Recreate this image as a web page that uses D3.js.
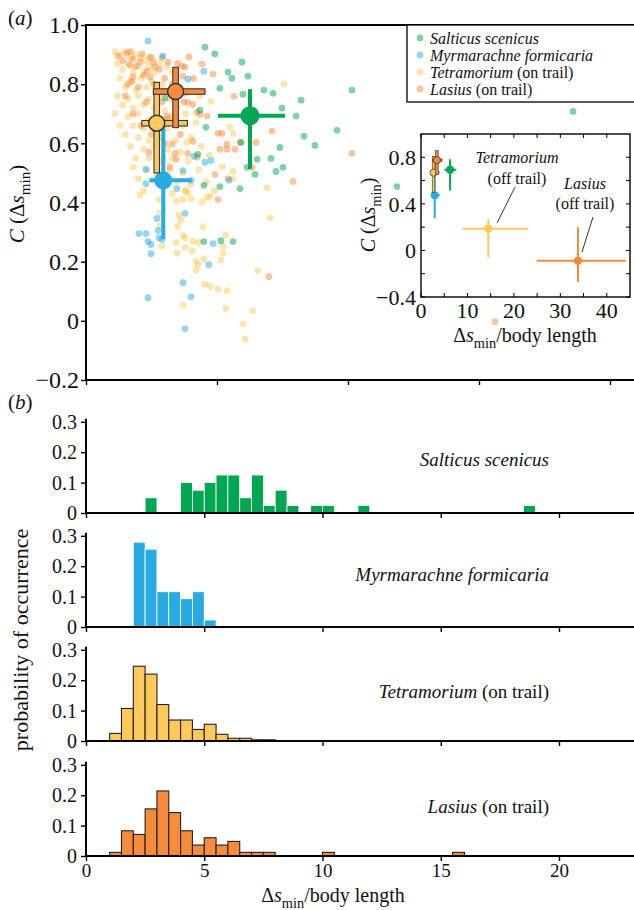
<!DOCTYPE html>
<html><head><meta charset="utf-8">
<script src="https://cdn.jsdelivr.net/npm/d3@7"></script>
<style>body{margin:0;background:#fff} svg{display:block}</style>
</head><body><svg id="c" width="634" height="910"></svg>
<script>
// ---------------- DATA ----------------
const speciesNames = ["Salticus scenicus", "Myrmarachne formicaria", "Tetramorium", "Lasius"];
const colors = ["#00a651", "#29abe2", "#fdc95b", "#f68b3c"];

const salticusPts = [[4.54,0.925],[4.92,0.902],[5.95,0.875],[5.42,0.841],[5.57,0.820],[6.18,0.827],[5.11,0.786],[6.79,0.780],[7.14,0.769],[8.21,0.746],[7.48,0.719],[8.02,0.692],[8.32,0.624],[8.74,0.593],[6.53,0.546],[7.25,0.505],[7.52,0.519],[6.45,0.495],[7.40,0.586],[4.35,0.712],[4.58,0.654],[4.27,0.563],[4.50,0.458],[5.88,0.447],[4.50,0.268],[5.15,0.271],[5.61,0.268],[9.58,0.644],[10.15,0.780],[11.87,0.454],[18.59,0.708],[7.06,0.549],[5.99,0.766],[5.92,0.603],[6.15,0.519],[3.02,0.753],[5.11,0.454]];

const myrmarachnePts = [[2.37,0.946],[2.94,0.895],[4.50,0.844],[3.89,0.817],[4.12,0.556],[4.54,0.536],[4.77,0.542],[3.70,0.508],[2.29,0.512],[2.29,0.464],[4.01,0.475],[3.47,0.447],[5.46,0.475],[2.71,0.346],[3.78,0.363],[2.02,0.295],[2.29,0.295],[2.75,0.305],[2.37,0.268],[2.48,0.258],[2.79,0.281],[2.90,0.275],[2.48,0.227],[4.85,0.261],[4.69,0.190],[3.70,0.129],[4.01,0.081],[2.37,0.078],[3.78,-0.027]];

const tetramoriumPts = [[1.1,0.91],[1.3,0.90],[1.5,0.91],[1.7,0.89],[1.9,0.90],[2.1,0.89],[2.3,0.88],[2.5,0.89],[1.2,0.87],[1.6,0.87],[2.0,0.86],[2.4,0.86],[2.8,0.87],[3.1,0.86],[1.4,0.85],[1.8,0.84],[2.2,0.84],[2.6,0.84],[3.3,0.84],
[1.3,0.82],[1.7,0.81],[2.1,0.82],[2.5,0.81],[2.9,0.80],[1.5,0.79],[1.9,0.78],[2.3,0.79],[2.7,0.78],[3.6,0.79],[1.2,0.76],[1.6,0.75],[2.0,0.76],[2.4,0.75],[2.8,0.76],[3.2,0.75],
[1.4,0.73],[1.8,0.72],[2.2,0.73],[2.6,0.72],[3.0,0.71],[3.5,0.72],[1.1,0.70],[1.6,0.69],[2.0,0.70],[2.4,0.68],[2.9,0.68],[3.3,0.69],[3.8,0.70],[1.3,0.66],[1.8,0.66],[2.2,0.65],[2.7,0.64],[3.1,0.65],[3.7,0.66],[4.2,0.67],
[1.5,0.63],[2.0,0.62],[2.4,0.61],[2.9,0.62],[3.4,0.61],[4.0,0.62],[1.7,0.59],[2.2,0.58],[2.6,0.59],[3.1,0.58],[3.6,0.57],[4.4,0.59],[1.9,0.55],[2.4,0.55],[2.8,0.54],[3.3,0.55],[3.9,0.54],[4.7,0.56],
[1.8,0.52],[2.3,0.51],[2.7,0.50],[3.2,0.51],[3.7,0.50],[4.3,0.51],[5.2,0.52],[2.0,0.48],[2.6,0.47],[3.0,0.46],[3.5,0.47],[4.0,0.46],[4.6,0.47],[5.6,0.48],[2.2,0.44],[3.3,0.43],[3.8,0.44],[4.9,0.44],
[2.06,0.425],[2.79,0.41],[3.44,0.404],[3.70,0.41],[3.78,0.438],[3.89,0.433],[4.01,0.413],[4.43,0.401],[4.62,0.418],[4.73,0.421],[2.82,0.365],[3.55,0.357],[3.61,0.340],[2.82,0.322],[3.51,0.318],[4.47,0.318],[5.34,0.289],[3.70,0.289],[3.78,0.280],[3.44,0.265],[4.08,0.269],[4.31,0.265],[2.90,0.252],[3.78,0.248],[4.05,0.237],[5.23,0.252],[5.23,0.229],[3.47,0.229],[4.50,0.209],[5.15,0.206],[4.20,0.201],[4.27,0.190],[4.20,0.171],[4.54,0.124],[4.73,0.116],[5.04,0.108],[5.38,0.102],[3.70,0.053],[5.34,0.042],[5.99,-0.011],[6.07,-0.062],[6.37,0.034],[6.91,0.450],[7.02,0.349],[6.56,0.169],[7.56,0.80],
[4.77,0.742],[5.61,0.634],[5.61,0.505],[4.35,0.759],[3.85,0.603],[5.50,0.654]];

const lasiusPts = [[1.22,0.895],[1.56,0.905],[1.79,0.885],[2.14,0.902],[1.68,0.864],[2.06,0.875],[2.44,0.892],[2.56,0.875],[2.63,0.858],[2.33,0.844],[1.79,0.824],[1.76,0.810],[2.44,0.824],[3.13,0.875],[3.66,0.861],[3.78,0.858],[3.93,0.892],[3.70,0.827],[4.43,0.868],[4.85,0.834],[5.65,0.759],[3.74,0.739],[3.89,0.739],[4.08,0.732],[4.35,0.698],[4.24,0.705],[5.04,0.634],[5.19,0.634],[5.38,0.597],[5.69,0.580],[5.38,0.580],[3.09,0.692],[3.13,0.681],[3.40,0.566],[3.89,0.566],[4.08,0.607],[3.28,0.597],[3.44,0.546],[4.24,0.553],[4.92,0.495],[5.42,0.481],[7.10,0.641],[6.49,0.603],[10.15,0.566],[7.90,0.471],[6.34,0.519],[5.04,0.410],[6.98,0.149],[15.61,-0.003],[4.62,0.692],[5.11,0.580],[5.88,0.603],
[1.4,0.88],[1.9,0.86],[2.2,0.83],[2.8,0.85],[1.6,0.80],[2.0,0.79],[2.6,0.80],[3.0,0.82],[1.5,0.76],[2.3,0.74],[2.9,0.74],[3.3,0.80],[1.8,0.70],[2.7,0.70],[3.4,0.72],[2.1,0.66],[2.5,0.63],[3.0,0.60],[3.6,0.63],[2.4,0.57],[3.2,0.52],[2.9,0.89],[3.5,0.87],[1.7,0.91],[3.8,0.77],[4.1,0.82]];

// mean values (order: Salticus, Myrmarachne, Tetramorium, Lasius)
const meanX = [6.26, 2.95, 2.70, 3.42];
const meanY = [0.693, 0.475, 0.668, 0.775];
const errXLo = [5.03, 2.42, 2.13, 2.57];
const errXHi = [7.60, 4.03, 3.87, 4.54];
const errYLo = [0.514, 0.277, 0.50, 0.653];
const errYHi = [0.783, 0.660, 0.806, 0.857];

// off-trail (inset): Tetramorium, Lasius
const offMeanX = [14.5, 33.8];
const offMeanY = [0.186, -0.088];
const offXLo = [8.9, 24.9];
const offXHi = [23.1, 44.1];
const offYLo = [-0.06, -0.27];
const offYHi = [0.27, 0.20];

const yTicksA = [-0.2, 0, 0.2, 0.4, 0.6, 0.8, 1.0];
const xTicksA = [0, 5, 10, 15, 20];
const insetYTicks = [-0.4, -0.2, 0, 0.2, 0.4, 0.6, 0.8];
const insetYLabels = [-0.4, 0, 0.4, 0.8];
const insetXTicks = [0, 5, 10, 15, 20, 25, 30, 35, 40];
const insetXLabels = [0, 10, 20, 30, 40];
const histYTicks = [0, 0.1, 0.2, 0.3];
const histXTicks = [0, 5, 10, 15, 20];

// histograms: bin starts (width 0.5) and probabilities
const salticusBins = [2.5, 4.0, 4.5, 5.0, 5.5, 6.0, 6.5, 7.0, 7.5, 8.0, 8.5, 9.5, 10.0, 11.5, 18.5];
const salticusProb = [0.05, 0.1, 0.075, 0.1, 0.125, 0.125, 0.05, 0.125, 0.025, 0.075, 0.025, 0.025, 0.025, 0.025, 0.025];
const myrmarachneBins = [2.0, 2.5, 3.0, 3.5, 4.0, 4.5, 5.0];
const myrmarachneProb = [0.279, 0.256, 0.116, 0.116, 0.093, 0.116, 0.023];
const tetramoriumBins = [1.0, 1.5, 2.0, 2.5, 3.0, 3.5, 4.0, 4.5, 5.0, 5.5, 6.0, 6.5, 7.0, 7.5];
const tetramoriumProb = [0.025, 0.107, 0.246, 0.220, 0.120, 0.069, 0.069, 0.038, 0.055, 0.022, 0.009, 0.009, 0.004, 0.004];
const lasiusBins = [1.0, 1.5, 2.0, 2.5, 3.0, 3.5, 4.0, 4.5, 5.0, 5.5, 6.0, 6.5, 7.0, 7.5, 10.0, 15.5];
const lasiusProb = [0.012, 0.083, 0.071, 0.155, 0.214, 0.143, 0.083, 0.036, 0.060, 0.036, 0.048, 0.012, 0.012, 0.012, 0.012, 0.012];
const binWidth = 0.5;

// ---------------- DRAW ----------------
const FONT = '"Liberation Serif","Times New Roman",serif';
const svg = d3.select("#c").attr("font-family", FONT);
const fmt = d => d === 0 ? "0" : (d < 0 ? "\u2212" + d3.format(".1f")(-d) : d3.format(".1f")(d));

function styleAxis(g, fs) {
  g.select(".domain").remove();
  g.selectAll("line").attr("stroke", "#000").attr("stroke-width", 1.4);
  g.selectAll("text").attr("font-size", fs).attr("font-family", FONT).attr("fill", "#111");
}

// ----- panel (a)
const xA = d3.scaleLinear().domain([0, 548 / 26.2]).range([86, 634]);
const yA = d3.scaleLinear().domain([-0.2, 1.0]).range([380, 25]);
const gA = svg.append("g");

const scatterGroups = [[tetramoriumPts, colors[2]], [lasiusPts, colors[3]], [myrmarachnePts, colors[1]], [salticusPts, colors[0]]];
scatterGroups.forEach(([pts, col]) => {
  gA.append("g").selectAll("circle").data(pts).join("circle")
    .attr("cx", d => xA(d[0])).attr("cy", d => yA(d[1])).attr("r", 3.4)
    .attr("fill", col).attr("fill-opacity", 0.5);
});

// axes a
const ayA = gA.append("g").attr("transform", "translate(86,0)")
  .call(d3.axisLeft(yA).tickValues(yTicksA).tickSize(5).tickPadding(2).tickFormat(fmt));
styleAxis(ayA, 24);
const axA = gA.append("g").attr("transform", "translate(0,380)")
  .call(d3.axisBottom(xA).tickValues(xTicksA).tickSize(5).tickFormat(""));
styleAxis(axA, 10);
gA.append("line").attr("x1", 86).attr("x2", 86).attr("y1", 25).attr("y2", 380).attr("stroke", "#000").attr("stroke-width", 2);
gA.append("line").attr("x1", 85).attr("x2", 634).attr("y1", 380).attr("y2", 380).attr("stroke", "#000").attr("stroke-width", 2);
gA.append("line").attr("x1", 85).attr("x2", 634).attr("y1", 25).attr("y2", 25).attr("stroke", "#000").attr("stroke-width", 2);

// mean markers (order: Myrmarachne, Tetramorium, Lasius, Salticus)
function drawMean(g, xs, ys, i, opts) {
  const col = colors[i];
  if (opts.outlined) {
    const w = opts.barW;
    g.append("rect").attr("x", xs(errXLo[i])).attr("y", ys(meanY[i]) - w / 2)
      .attr("width", xs(errXHi[i]) - xs(errXLo[i])).attr("height", w)
      .attr("fill", col).attr("stroke", "#333").attr("stroke-width", opts.ow);
    g.append("rect").attr("x", xs(meanX[i]) - w / 2).attr("y", ys(errYHi[i]))
      .attr("width", w).attr("height", ys(errYLo[i]) - ys(errYHi[i]))
      .attr("fill", col).attr("stroke", "#333").attr("stroke-width", opts.ow);
    g.append("circle").attr("cx", xs(meanX[i])).attr("cy", ys(meanY[i])).attr("r", opts.r)
      .attr("fill", col).attr("stroke", "#333").attr("stroke-width", opts.ow * 1.3);
  } else {
    g.append("line").attr("x1", xs(errXLo[i])).attr("x2", xs(errXHi[i]))
      .attr("y1", ys(meanY[i])).attr("y2", ys(meanY[i])).attr("stroke", col).attr("stroke-width", opts.lw);
    g.append("line").attr("x1", xs(meanX[i])).attr("x2", xs(meanX[i]))
      .attr("y1", ys(errYLo[i])).attr("y2", ys(errYHi[i])).attr("stroke", col).attr("stroke-width", opts.lw);
    g.append("circle").attr("cx", xs(meanX[i])).attr("cy", ys(meanY[i])).attr("r", opts.r).attr("fill", col);
  }
}
const gM = gA.append("g");
drawMean(gM, xA, yA, 1, {lw: 4, r: 9});
drawMean(gM, xA, yA, 2, {outlined: true, barW: 5.5, ow: 1.1, r: 8});
drawMean(gM, xA, yA, 3, {outlined: true, barW: 5.5, ow: 1.1, r: 8});
drawMean(gM, xA, yA, 0, {lw: 4, r: 9.5});

// legend
const gL = svg.append("g");
gL.append("rect").attr("x", 407).attr("y", 25).attr("width", 240).attr("height", 77)
  .attr("fill", "#fff").attr("stroke", "#000").attr("stroke-width", 1.3);
const legendSuffix = ["", "", " (on trail)", " (on trail)"];
speciesNames.forEach((s, i) => {
  const cy = 38 + i * 17;
  gL.append("circle").attr("cx", 420).attr("cy", cy).attr("r", 3.4).attr("fill", colors[i]).attr("fill-opacity", 0.5);
  const t = gL.append("text").attr("x", 430).attr("y", cy + 5.5).attr("font-size", 16).attr("fill", "#111");
  t.append("tspan").attr("font-style", "italic").text(s);
  if (legendSuffix[i]) t.append("tspan").text(legendSuffix[i]);
});

// inset
const xI = d3.scaleLinear().domain([0, 45]).range([421, 630]);
const yI = d3.scaleLinear().domain([-0.4, 1.0]).range([297, 134]);
const gI = svg.append("g");
gI.append("rect").attr("x", 421).attr("y", 134).attr("width", 209).attr("height", 163)
  .attr("fill", "#fff").attr("stroke", "#000").attr("stroke-width", 1.4);
const tl = 4;
insetYTicks.forEach(v => {
  gI.append("line").attr("x1", 421).attr("x2", 421 + tl).attr("y1", yI(v)).attr("y2", yI(v)).attr("stroke", "#000").attr("stroke-width", 1);
  gI.append("line").attr("x1", 630 - tl).attr("x2", 630).attr("y1", yI(v)).attr("y2", yI(v)).attr("stroke", "#000").attr("stroke-width", 1);
});
insetXTicks.forEach(v => {
  gI.append("line").attr("x1", xI(v)).attr("x2", xI(v)).attr("y1", 297).attr("y2", 297 - tl).attr("stroke", "#000").attr("stroke-width", 1);
  gI.append("line").attr("x1", xI(v)).attr("x2", xI(v)).attr("y1", 134).attr("y2", 134 + tl).attr("stroke", "#000").attr("stroke-width", 1);
});
insetYLabels.forEach(v => {
  gI.append("text").attr("x", 416).attr("y", yI(v)).attr("dy", "0.35em").attr("text-anchor", "end")
    .attr("font-size", 22).attr("fill", "#111").text(fmt(v));
});
insetXLabels.forEach(v => {
  gI.append("text").attr("x", xI(v)).attr("y", 318).attr("text-anchor", "middle")
    .attr("font-size", 22).attr("fill", "#111").text(v);
});
// inset markers
const gIM = gI.append("g");
drawMean(gIM, xI, yI, 1, {lw: 2, r: 4});
drawMean(gIM, xI, yI, 2, {outlined: true, barW: 2.6, ow: 0.6, r: 3.6});
drawMean(gIM, xI, yI, 3, {outlined: true, barW: 2.6, ow: 0.6, r: 3.6});
drawMean(gIM, xI, yI, 0, {lw: 2, r: 4});
const offColors = [colors[2], colors[3]];
offMeanX.forEach((mx, j) => {
  const col = offColors[j];
  gIM.append("line").attr("x1", xI(offXLo[j])).attr("x2", xI(offXHi[j])).attr("y1", yI(offMeanY[j])).attr("y2", yI(offMeanY[j]))
    .attr("stroke", col).attr("stroke-width", 2);
  gIM.append("line").attr("x1", xI(mx)).attr("x2", xI(mx)).attr("y1", yI(offYLo[j])).attr("y2", yI(offYHi[j]))
    .attr("stroke", col).attr("stroke-width", 2);
  gIM.append("circle").attr("cx", xI(mx)).attr("cy", yI(offMeanY[j])).attr("r", 4.2).attr("fill", col);
});
// annotations
function annot(cx, y1, y2, name) {
  gI.append("text").attr("x", cx).attr("y", y1).attr("text-anchor", "middle").attr("font-size", 16)
    .attr("font-style", "italic").attr("fill", "#111").text(name);
  gI.append("text").attr("x", cx).attr("y", y2).attr("text-anchor", "middle").attr("font-size", 16)
    .attr("fill", "#111").text("(off trail)");
}
annot(517, 163, 183.5, "Tetramorium");
annot(585, 189, 209, "Lasius");
gI.append("line").attr("x1", 497).attr("y1", 223).attr("x2", 515).attr("y2", 187).attr("stroke", "#333").attr("stroke-width", 1);
gI.append("line").attr("x1", 582).attr("y1", 252).attr("x2", 593).attr("y2", 217).attr("stroke", "#333").attr("stroke-width", 1);
// axis titles
function cLabel(g, x, y, fs) {
  const t = g.append("text").attr("transform", `translate(${x},${y}) rotate(-90)`).attr("text-anchor", "middle")
    .attr("font-size", fs).attr("fill", "#111");
  t.append("tspan").attr("font-style", "italic").text("C");
  t.append("tspan").text(" (\u0394");
  t.append("tspan").attr("font-style", "italic").text("s");
  t.append("tspan").attr("font-size", fs * 0.72).attr("dy", fs * 0.3).text("min");
  t.append("tspan").attr("dy", -fs * 0.3).text(")");
}
function dsLabel(g, x, y, fs) {
  const t = g.append("text").attr("x", x).attr("y", y).attr("text-anchor", "middle").attr("font-size", fs).attr("fill", "#111");
  t.append("tspan").text("\u0394");
  t.append("tspan").attr("font-style", "italic").text("s");
  t.append("tspan").attr("font-size", fs * 0.72).attr("dy", fs * 0.3).text("min");
  t.append("tspan").attr("dy", -fs * 0.3).text("/body length");
}
cLabel(gI, 375, 215, 20);
dsLabel(gI, 525, 342, 20);
cLabel(gA, 24, 204, 21);

// panel labels
function panelLabel(x, y, ch) {
  const t = svg.append("text").attr("x", x).attr("y", y).attr("font-size", 21).attr("fill", "#111");
  t.append("tspan").text("(");
  t.append("tspan").attr("font-style", "italic").text(ch);
  t.append("tspan").text(")");
}
panelLabel(8, 25, "a");
panelLabel(8, 409, "b");

// ----- panel (b) histograms
const xH = d3.scaleLinear().domain([0, 548 / 23.65]).range([86, 634]);
const zeros = [513, 627, 741, 856];
const histData = [
  [salticusBins, salticusProb, false],
  [myrmarachneBins, myrmarachneProb, false],
  [tetramoriumBins, tetramoriumProb, true],
  [lasiusBins, lasiusProb, true]];
const histLabelBase = [466, 581, 698, 813];
histData.forEach(([bins, probs, outlined], i) => {
  const y0 = zeros[i];
  const yH = d3.scaleLinear().domain([0, 0.31]).range([y0, y0 - 0.31 * 304]);
  const g = svg.append("g");
  g.selectAll("rect").data(bins).join("rect")
    .attr("x", (d) => xH(d)).attr("width", d => xH(d + binWidth) - xH(d))
    .attr("y", (d, k) => yH(probs[k])).attr("height", (d, k) => y0 - yH(probs[k]))
    .attr("fill", colors[i])
    .attr("stroke", outlined ? "#222" : "#fff").attr("stroke-width", outlined ? 1.1 : 0.8);
  const ay = g.append("g").attr("transform", "translate(86,0)")
    .call(d3.axisLeft(yH).tickValues(histYTicks).tickSize(5).tickPadding(4).tickFormat(d => d === 0 ? "0" : d3.format(".1f")(d)));
  styleAxis(ay, 20);
  const ax = g.append("g").attr("transform", `translate(0,${y0})`)
    .call(d3.axisBottom(xH).tickValues(histXTicks).tickSize(5).tickPadding(3).tickFormat(i === 3 ? d3.format("d") : ""));
  styleAxis(ax, 19);
  g.append("line").attr("x1", 86).attr("x2", 86).attr("y1", y0).attr("y2", yH(0.31)).attr("stroke", "#000").attr("stroke-width", 2);
  g.append("line").attr("x1", 85).attr("x2", 634).attr("y1", y0).attr("y2", y0).attr("stroke", "#000").attr("stroke-width", 2);
  const t = g.append("text").attr("x", 549).attr("y", histLabelBase[i]).attr("text-anchor", "end").attr("font-size", 19).attr("fill", "#111");
  t.append("tspan").attr("font-style", "italic").text(speciesNames[i]);
  if (legendSuffix[i]) t.append("tspan").text(legendSuffix[i]);
});
svg.append("text").attr("transform", "translate(28,640) rotate(-90)").attr("text-anchor", "middle")
  .attr("font-size", 22).attr("fill", "#111").text("probability of occurrence");
dsLabel(svg, 333, 902, 20);
</script></body></html>
